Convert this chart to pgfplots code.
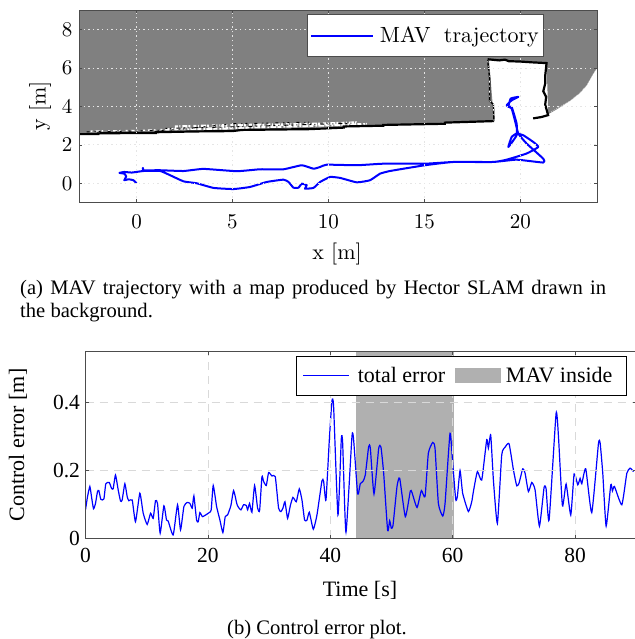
\documentclass[border=0pt]{standalone}
\usepackage{pgfplots}
\pgfplotsset{compat=1.18}
\usepackage{fontspec}
\setmainfont{Liberation Serif}
\newfontfamily\lmr{lmroman10-regular.otf}
\definecolor{mapgray}{gray}{0.5}
\definecolor{bandgray}{gray}{0.69}
\definecolor{frame}{gray}{0.3}
\begin{document}
\begin{tikzpicture}[x=1pt,y=1pt]
\path[use as bounding box] (0,0) rectangle (634,639);
% ---------- (a) ----------
\begin{axis}[
  at={(79pt,436.5pt)},anchor=south west,scale only axis,
  width=518pt,height=192pt,
  xmin=-3,xmax=24,ymin=-1,ymax=9,
  xtick={0,5,10,15,20},ytick={0,2,4,6,8},
  axis on top,
  axis line style={frame,line width=0.9pt},
  tick style={frame,line width=0.5pt},
  tick align=inside,major tick length=3pt,
  grid=major,major grid style={dash pattern=on 1.4pt off 3.2pt,color=black!10,line width=0.8pt},
  tick label style={font=\lmr\fontsize{21}{23}\selectfont},
  /pgf/number format/assume math mode=true,
  xticklabel style={yshift=-8pt},
  yticklabel style={xshift=-3pt},
  legend style={at={(axis cs:-3,9)},xshift=227.5pt,yshift=-4pt,anchor=north west,draw=frame,line width=0.9pt,
    font=\lmr\fontsize{22}{24}\selectfont,inner xsep=3pt,inner ysep=10pt},
  legend cell align=left,
  legend image code/.code={\draw[#1] (0pt,0pt) -- (62pt,0pt);\path (66pt,0pt);},
]
\addplot[fill=mapgray,draw=none,forget plot] coordinates {
 (-3,2.55)(0,2.62)(3,2.72)(5,2.76)(9,2.88)(12.86,3.04)(16.07,3.16)(18.63,3.26)(18.37,6.44)(21.37,6.28)(21.46,3.6)
 (21.9,3.85)(22.6,4.3)(23.1,4.7)(23.46,5.1)(23.8,5.7)(24,6)(24,9)(-3,9)};
\addplot[black!25,line width=0.6pt,dash pattern=on 1pt off 1pt,forget plot] coordinates {(21.6,3.72)(22.6,4.3)(23.1,4.7)(23.46,5.1)(23.8,5.7)(24,6)};
% speckle along the wall
\addplot[white,line width=2.6pt,dash pattern=on 3pt off 1.5pt on 1pt off 2pt on 5pt off 1pt on 2pt off 3pt,forget plot] coordinates {(2,2.95)(5,3.02)(9,3.08)(11.5,3.16)};
\addplot[white,line width=2.4pt,dash pattern=on 4pt off 2pt on 2pt off 1pt on 6pt off 1pt,forget plot] coordinates {(1.5,2.8)(5,2.87)(9,3.0)(12,3.08)};
\addplot[white,line width=1.4pt,dash pattern=on 2pt off 3pt on 4pt off 2pt on 1.5pt off 5pt,forget plot] coordinates {(-2.4,2.72)(0,2.75)(1,2.78)(2.2,2.86)};
\addplot[black,line width=1pt,dash pattern=on 2pt off 3pt on 1pt off 5pt on 4pt off 3pt,forget plot] coordinates {(1.5,2.86)(5,2.94)(9,3.06)(11.5,3.14)};
\addplot[black,line width=1pt,dash pattern=on 3pt off 5pt on 1pt off 3pt on 2pt off 7pt,forget plot] coordinates {(-2.6,2.68)(0,2.72)(2,2.78)(5,3.1)(9,3.18)};
% walls
\addplot[black,line width=2.2pt,forget plot] coordinates {
 (-3,2.56)(-2,2.56)(-2,2.6)(0,2.62)(1,2.62)(1,2.66)(3,2.7)(5,2.72)(5.5,2.78)(9,2.82)(10.8,2.9)(10.8,2.96)(12.86,3)(12.86,3.04)(16.07,3.1)(16.07,3.16)(18.63,3.24)};
\addplot[black,line width=1.4pt,forget plot] coordinates {(18.63,3.24)(18.6,4.1)(18.4,4.3)(18.4,5.5)(18.3,6.42)};
\addplot[white,line width=0.7pt,dash pattern=on 2pt off 4pt on 1pt off 3pt,forget plot] coordinates {(18.63,3.24)(18.6,4.1)(18.4,4.3)(18.4,5.5)(18.3,6.42)};
\addplot[black,line width=2.2pt,forget plot] coordinates {(18.3,6.46)(18.9,6.4)(19.2,6.44)(19.4,6.36)(20,6.34)(20.6,6.3)(21.37,6.26)(21.3,5.6)(21.3,5.2)(21.2,4.8)(21.35,4.5)(21.3,4.1)(21.45,3.55)(21.1,3.45)(20.67,3.38)};
% trajectory
\addplot[blue,line width=2pt,line join=round,smooth,tension=0.25] coordinates {
(0,0)(-.16,.16)(-.42,.21)(-.64,.16)(-.54,.36)(-.64,.5)(-.89,.54)(-.64,.59)(-.24,.56)(.36,.64)(1.23,.64)(1.75,.42)(2.45,.1)(3.14,0)(4.01,-.24)(5.05,-.3)(5.92,-.19)(6.79,.07)(7.66,.19)(7.92,.07)(8.18,-.23)(8.44,-.23)(8.61,-.02)(8.87,-.1)(8.78,-.28)(9.22,-.24)(9.57,.07)
(10.09,.33)(10.61,.28)(11.48,.05)(12.17,.16)(12.69,.5)(13.21,.64)(15.03,.94)(16.51,1.11)(18.59,1.11)(19.29,1.23)(20.33,1.55)(20.94,1.89)(20.68,2.15)(20.16,2.5)(19.81,2.59)(19.55,2.41)(19.38,1.89)(19.81,2.5)(19.81,3.11)(19.55,3.98)(19.38,3.98)(19.5,4.41)(19.9,4.5)(19.55,4.32)(19.29,4.06)(19.55,3.89)(19.72,3.28)(19.9,2.59)(20.33,2.07)(21.2,1.28)(21.2,1.08)(19.81,1.23)(18.59,1.11)(16.51,1.11)(15.03,1.02)(12.86,1.02)(11.48,.94)(9.91,.97)(9.57,.85)
(9.22,.76)(8.61,.94)(7.66,.73)(6.44,.73)(5.23,.63)(3.49,.75)(2.45,.64)(1.23,.68)(.36,.68)(.33,.8)(.36,.66)};
\addlegendentry{MAV\hspace{6pt} trajectory}
\end{axis}
\node[font=\lmr\fontsize{22}{24}\selectfont,inner sep=0pt] at (337,385) {x [m]};
\node[font=\lmr\fontsize{22}{24}\selectfont,rotate=90,inner sep=0pt] at (40,533) {y [m]};
\node[anchor=base west,inner sep=0pt,font=\fontsize{20.6}{22}\selectfont] at (20,344) {\makebox[586pt][s]{(a) MAV trajectory with a map produced by Hector SLAM drawn in}};
\node[anchor=base west,inner sep=0pt,font=\fontsize{20.6}{22}\selectfont] at (20,321) {the background.};
% ---------- (b) ----------
\begin{axis}[
  at={(85.5pt,101pt)},anchor=south west,scale only axis,
  width=550.8pt,height=186.4pt,
  xmin=0,xmax=90,ymin=0,ymax=0.55,
  xtick={0,20,40,60,80},ytick={0,0.2,0.4},
  yticklabels={0,0.2,0.4},
  axis on top,
  axis line style={frame,line width=0.9pt},
  tick style={frame,line width=0.5pt},
  tick align=inside,major tick length=3pt,
  grid=major,major grid style={dash pattern=on 8pt off 6pt,color=black!15,line width=0.8pt},
  tick label style={font=\fontsize{21.5}{23}\selectfont},
  /pgf/number format/assume math mode=true,
  xticklabel style={yshift=-7pt},
  yticklabel style={xshift=-2pt},
  legend columns=2,
  legend style={at={(axis cs:0,0.55)},xshift=210.2pt,yshift=-4pt,anchor=north west,draw=black,line width=0.8pt,
    font=\fontsize{22}{24}\selectfont,inner xsep=6.5pt,inner ysep=9.5pt,
    /tikz/every even column/.append style={column sep=8pt}},
  legend cell align=left,
  legend image code/.code={\draw[blue,line width=1.2pt] (0pt,0pt) -- (46pt,0pt);\path (52pt,0pt);},
]
\addplot[fill=bandgray,draw=none,forget plot] coordinates {(44.15,0)(60.15,0)(60.15,0.55)(44.15,0.55)};
\addplot[blue,line width=1.2pt,smooth,tension=0.3] coordinates {
(0,.083)(.33,.122)(.71,.152)(.98,.122)(1.31,.086)(1.63,.102)(1.96,.137)(2.18,.14)(2.51,.114)(3,.115)(3.32,.16)(3.87,.164)(4.25,.147)(4.52,.145)(4.9,.186)(5.34,.142)(5.72,.109)(5.99,.112)(6.43,.16)(6.81,.122)(7.08,.11)(7.63,.112)(8.17,.048)(8.88,.132)(9.43,.073)(10.08,.04)(10.63,.073)(11.06,.058)(11.44,.11)(11.77,.102)(12.2,.014)(12.81,.095)(13.24,.053)(13.51,.05)(14.33,.009)(15.04,.098)(15.53,.024)(16.08,.093)(16.62,.105)(17.06,.102)(17.44,.088)(17.71,.124)(18.15,.053)(18.42,.048)(18.69,.075)(19.13,.063)(20.22,.075)(20.54,.083)(20.87,.155)(21.42,.093)(21.96,.053)
(22.45,.016)(22.83,.063)(23.22,.068)(23.76,.096)(24.2,.14)(24.74,.1)(25.01,.09)(25.4,.083)(25.83,.098)(26.27,.096)(26.49,.083)(26.81,.102)(27.19,.076)(27.63,.155)(28.12,.088)(28.45,.081)(28.83,.181)(29.1,.167)(29.54,.155)(29.92,.193)(30.46,.183)(31.01,.181)(31.55,.088)(31.93,.078)(32.26,.088)(32.59,.107)(33.02,.058)(33.46,.095)(33.9,.12)(34.44,.107)(34.93,.145)(35.37,.112)(35.8,.053)(36.19,.053)(36.57,.076)(37.22,.026)(37.82,.068)(38.64,.169)(38.91,.167)(39.29,.112)(39.84,.29)(40.27,.405)(40.54,.388)(41.25,.068)(41.8,.293)(42.02,.28)(42.56,.017)(43.54,.3)(43.81,.29)(44.47,.13)(44.9,.16)(45.34,.167)(45.72,.186)(46.27,.27)(46.54,.265)(47.14,.13)(47.91,.265)(48.28,.268)(48.72,.191)(49.37,.022)(49.7,.051)(49.97,.029)(50.25,.038)(50.9,.152)(51.34,.176)(52.26,.063)(53.08,.139)(53.35,.134)(54.17,.09)(54.88,.14)
(55.48,.122)(56.02,.25)(56.73,.282)(57.11,.265)(57.66,.102)(58.37,.065)(58.75,.102)(59.56,.309)(60,.221)(60.49,.114)(60.76,.122)(61.2,.199)(61.63,.132)(62.56,.078)(63.11,.107)(63.38,.137)(64.03,.196)(64.74,.171)(65.56,.29)(65.83,.265)(66.21,.304)(66.65,.171)(67.3,.043)(68.01,.245)(68.56,.268)(69.21,.278)(69.92,.201)(70.46,.154)(70.84,.162)(71.44,.204)(71.83,.191)(72.37,.137)(72.92,.164)(73.46,.142)(74.17,.035)(74.93,.149)(75.26,.145)(75.75,.053)(76.89,.367)(77.28,.3)(77.93,.095)(78.53,.159)(79.29,.068)(79.84,.189)(80.44,.157)(80.82,.176)(81.09,.16)(81.74,.204)(82.72,.075)(83.81,.278)(84.09,.28)(84.52,.191)(85.07,.035)(85.83,.157)(86.1,.139)(86.43,.152)(87.63,.098)(88.45,.191)(88.99,.206)(89.54,.196)};
\addlegendentry{total error}
\addlegendimage{legend image code/.code={\fill[bandgray] (0pt,-7pt) rectangle (45pt,7pt);\path (48pt,0pt);}}
\addlegendentry{MAV inside\hspace*{5pt}}
\end{axis}
\node[font=\fontsize{22}{24}\selectfont,inner sep=0pt] at (360,49) {Time [s]};
\node[font=\fontsize{22}{24}\selectfont,rotate=90,inner sep=0pt] at (18,194) {Control error [m]};
\node[anchor=base,inner sep=0pt,font=\fontsize{20.6}{22}\selectfont] at (317,5) {(b) Control error plot.};
\end{tikzpicture}
\end{document}
